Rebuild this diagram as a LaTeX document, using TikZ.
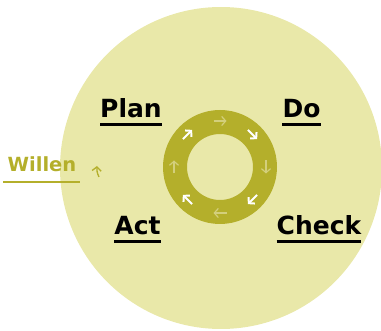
\documentclass[tikz,border=0pt]{standalone}
\usepackage{fontspec}
\setmainfont{DejaVu Sans}
\usetikzlibrary{arrows.meta,calc}
\definecolor{bgyellow}{HTML}{E9E8A9}
\definecolor{ringolive}{HTML}{B4AF2B}
\definecolor{fadearrow}{HTML}{D3CF7C}
\begin{document}
\begin{tikzpicture}[x=1pt, y=-1pt,
    stage/.style={font=\bfseries\fontsize{25}{25}\selectfont, inner sep=0pt, anchor=base}]
    \useasboundingbox (0,0) rectangle (381,331);
    \clip (0,0) rectangle (381,331);
    % 大きい円
    \fill[bgyellow] (221,168) circle (161pt);

    % リング
    \coordinate (mid) at (220,167);
    \fill[ringolive, even odd rule] (mid) circle (57pt) (mid) circle (33pt);

    % リング上の矢印
    \foreach \a/\c/\w in {-90/fadearrow/1.2, -45/white/2, 0/fadearrow/1.2, 45/white/2, 90/fadearrow/1.2, 135/white/2, 180/fadearrow/1.2, 225/white/2}
        \draw[\c, line width=\w pt, -{Straight Barb[length=4pt, width=9pt]}] ($(mid)+(\a:46)+(\a+90:-6.5)$) -- ++(\a+90:13);

    % ラベル
    \node[stage] (plan) at (131,118) {Plan};
    \node[stage] (do) at (301.5,118) {Do};
    \node[stage] (act) at (137.5,235) {Act};
    \node[stage] (check) at (319,235) {Check};
    \foreach \n in {plan,do,act,check}
        \draw[line width=2.5pt] ([yshift=-6.5pt]\n.base west) -- ([yshift=-6.5pt]\n.base east);

    % Willen
    \node[font=\bfseries\fontsize{19.5}{19.5}\selectfont, text=ringolive, inner sep=0pt, anchor=base] (willen) at (42,172) {Willen};
    \draw[ringolive, line width=2pt] ([xshift=-4pt, yshift=-10pt]willen.base west) -- ([xshift=3pt, yshift=-10pt]willen.base east);
    \draw[ringolive, line width=1.3pt, -{Straight Barb[length=4pt, width=9pt]}] (99,177) to[bend left=15] (97,166);
\end{tikzpicture}
\end{document}
